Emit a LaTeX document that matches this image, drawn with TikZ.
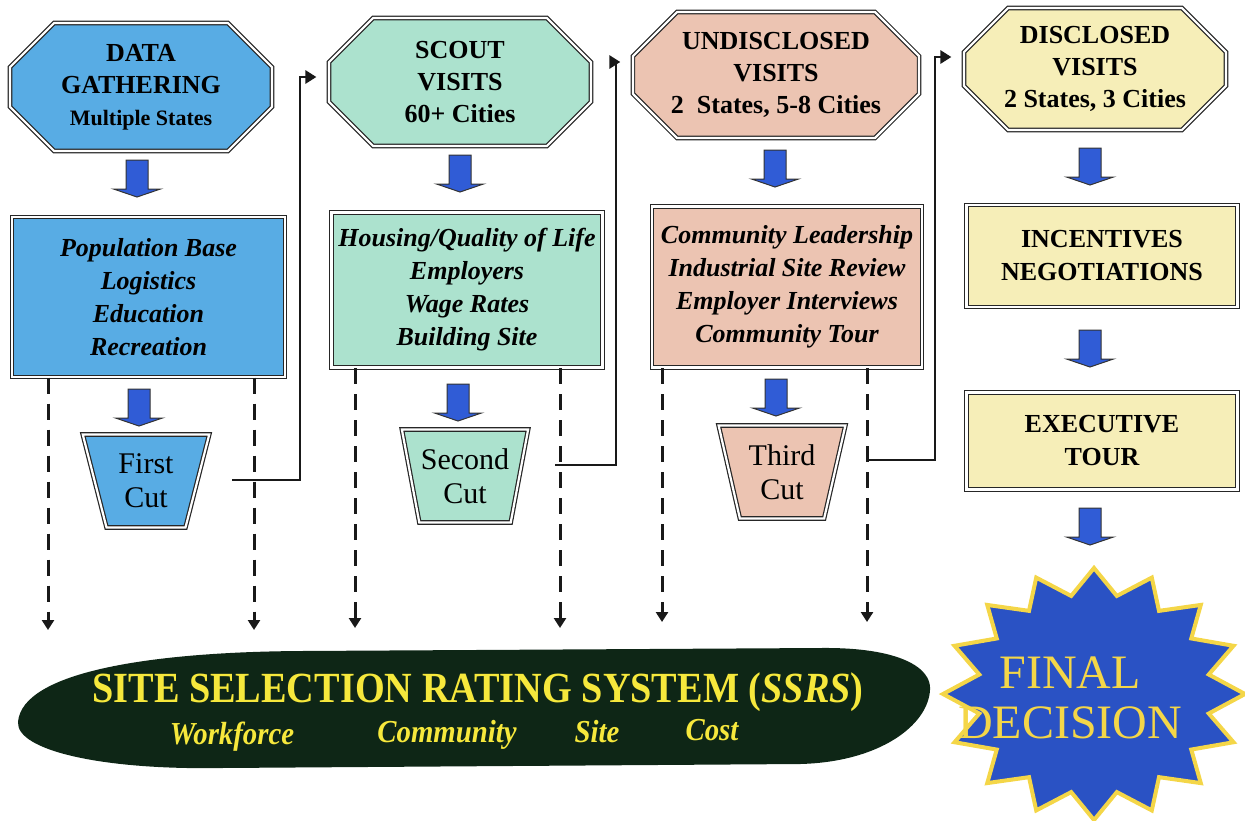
\documentclass[tikz,border=0pt]{standalone}
\usepackage{fontspec}
\setmainfont{Liberation Serif}
\usetikzlibrary{shapes.misc,shapes.geometric,arrows.meta}

\definecolor{gatherblue}{RGB}{88,172,228}
\definecolor{scoutgreen}{RGB}{172,226,206}
\definecolor{undisclosedpink}{RGB}{236,196,178}
\definecolor{disclosedyellow}{RGB}{246,238,184}
\definecolor{arrowblue}{RGB}{48,92,214}
\definecolor{ssrsgreen}{RGB}{14,38,22}
\definecolor{ssrsyellow}{RGB}{246,232,60}
\definecolor{starblue}{RGB}{42,82,196}
\definecolor{staryellow}{RGB}{244,214,72}

\tikzset{
  border/.style={draw=black!85,line width=0.6pt,double=white,double distance=1.1pt},
  stagearrow/.pic={\draw[draw=black!80,fill=arrowblue,line width=0.5pt]
    (-11,0) -- (11,0) -- (11,29) -- (23.5,29) -- (0,37) -- (-23.5,29) -- (-11,29) -- cycle;}
}

\begin{document}
\begin{tikzpicture}[x=0.5pt,y=-0.5pt,
  visit/.style={border,chamfered rectangle,chamfered rectangle xsep=19pt,align=center,inner sep=0pt,
    font=\bfseries\fontsize{13}{16}\selectfont,minimum width=131pt,minimum height=64pt},
  factor/.style={border,align=center,inner sep=2pt,font=\bfseries\itshape\fontsize{13}{16.5}\selectfont},
  cut/.style={border,trapezium,shape border rotate=180,trapezium angle=73,trapezium stretches=true,
    minimum width=63.5pt,minimum height=46.5pt,align=center,inner sep=0pt,font=\fontsize{15}{17}\selectfont},
  rating/.style={text=ssrsyellow,font=\bfseries\itshape\fontsize{16}{18}\selectfont},
  dropline/.style={black!90,line width=1.5pt,dash pattern=on 8pt off 5pt,-{Triangle[width=6pt,length=5pt]}},
  flowline/.style={black!90,line width=1.4pt,-{Triangle[width=6.5pt,length=5.5pt]}}]
\useasboundingbox (0,0) rectangle (1245,820);

\node[visit,fill=gatherblue] (oct1) at (141,87) {DATA\\GATHERING\\{\fontsize{11}{13}\selectfont Multiple States}};
\node[visit,fill=scoutgreen] (oct2) at (460,82) {SCOUT\\VISITS\\60+ Cities};
\node[visit,fill=undisclosedpink,minimum height=63pt] (oct3) at (776,75) {UNDISCLOSED\\VISITS\\2~ States, 5-8 Cities};
\node[visit,fill=disclosedyellow,minimum height=61pt] (oct4) at (1095,69) {DISCLOSED\\VISITS\\2 States, 3 Cities};

\node[factor,fill=gatherblue,minimum width=136.5pt,minimum height=80pt] (fac1) at (148.5,297)
  {Population Base\\Logistics\\Education\\Recreation};
\node[factor,fill=scoutgreen,minimum width=135.5pt,minimum height=77.5pt] (fac2) at (467,290)
  {Housing/Quality of Life\\Employers\\Wage Rates\\Building Site};
\node[factor,fill=undisclosedpink,minimum width=135pt,minimum height=80.5pt] (fac3) at (787,287)
  {Community Leadership\\Industrial Site Review\\Employer Interviews\\Community Tour};
\node[factor,fill=disclosedyellow,font=\bfseries\fontsize{13}{16.5}\selectfont,minimum width=135.5pt,minimum height=51pt] (incent) at (1102,256)
  {INCENTIVES\\NEGOTIATIONS};
\node[factor,fill=disclosedyellow,font=\bfseries\fontsize{13}{16.5}\selectfont,minimum width=135.5pt,minimum height=48.5pt] (exec) at (1102,441)
  {EXECUTIVE\\TOUR};

\node[cut,fill=gatherblue] (cut1) at (146,481) {First\\Cut};
\node[cut,fill=scoutgreen] (cut2) at (465,476) {Second\\Cut};
\node[cut,fill=undisclosedpink] (cut3) at (782,472) {Third\\Cut};

\pic at (137,160) {stagearrow};
\pic at (139,389) {stagearrow};
\pic at (460,155) {stagearrow};
\pic at (458,384) {stagearrow};
\pic at (775,150) {stagearrow};
\pic at (776,379) {stagearrow};
\pic at (1090,148) {stagearrow};
\pic at (1090,330) {stagearrow};
\pic at (1090,508) {stagearrow};

\coordinate (d11) at (48,630);
\coordinate (d12) at (254,630);
\coordinate (d21) at (355,628);
\coordinate (d22) at (560,628);
\coordinate (d31) at (662,622);
\coordinate (d32) at (867,622);
\draw[dropline] (fac1.south -| d11) -- (d11);
\draw[dropline] (fac1.south -| d12) -- (d12);
\draw[dropline] (fac2.south -| d21) -- (d21);
\draw[dropline] (fac2.south -| d22) -- (d22);
\draw[dropline] (fac3.south -| d31) -- (d31);
\draw[dropline] (fac3.south -| d32) -- (d32);

\coordinate (j1) at (232,480);
\coordinate (k1) at (300,77);
\coordinate (j2) at (555,465);
\coordinate (k2) at (616,62);
\coordinate (j3) at (867,460);
\coordinate (k3) at (935,57);
\draw[flowline] (j1) -| (k1) -- ([xshift=-6pt]k1 -| oct2.west);
\draw[flowline] (j2) -| (k2) -- ([xshift=-6pt]k2 -| oct3.west);
\draw[flowline] (j3) -| (k3) -- ([xshift=-6pt]k3 -| oct4.west);

\fill[ssrsgreen] (18,722) .. controls (22,672) and (150,652) .. (300,651) -- (820,648)
  .. controls (900,647) and (932,668) .. (930,690) .. controls (928,725) and (880,762) .. (800,764)
  -- (220,768) .. controls (100,770) and (16,750) .. cycle;
\node[text=ssrsyellow,font=\bfseries\fontsize{21.5}{23}\selectfont] (ssrs) at (478,692)
  {\scalebox{0.89}[1]{SITE SELECTION RATING SYSTEM (\textit{SSRS})}};
\node[rating] (workforce) at (232,737) {\scalebox{0.9}[1]{Workforce}};
\node[rating] (community) at (447,735) {\scalebox{0.9}[1]{Community}};
\node[rating] (site) at (597,732) {\scalebox{0.9}[1]{Site}};
\node[rating] (cost) at (712,730) {\scalebox{0.9}[1]{Cost}};

\filldraw[fill=starblue,draw=staryellow,line width=2pt,line join=miter]
  plot[samples=33,domain=0:32,variable=\k]
  ({1094+(134+17*cos(\k*180))*sin(\k*11.25)},{694-(113+13*cos(\k*180))*cos(\k*11.25)}) -- cycle;
\node[text=staryellow,align=center,font=\fontsize{24}{25}\selectfont] (final) at (1070,698) {FINAL\\DECISION};
\end{tikzpicture}
\end{document}
